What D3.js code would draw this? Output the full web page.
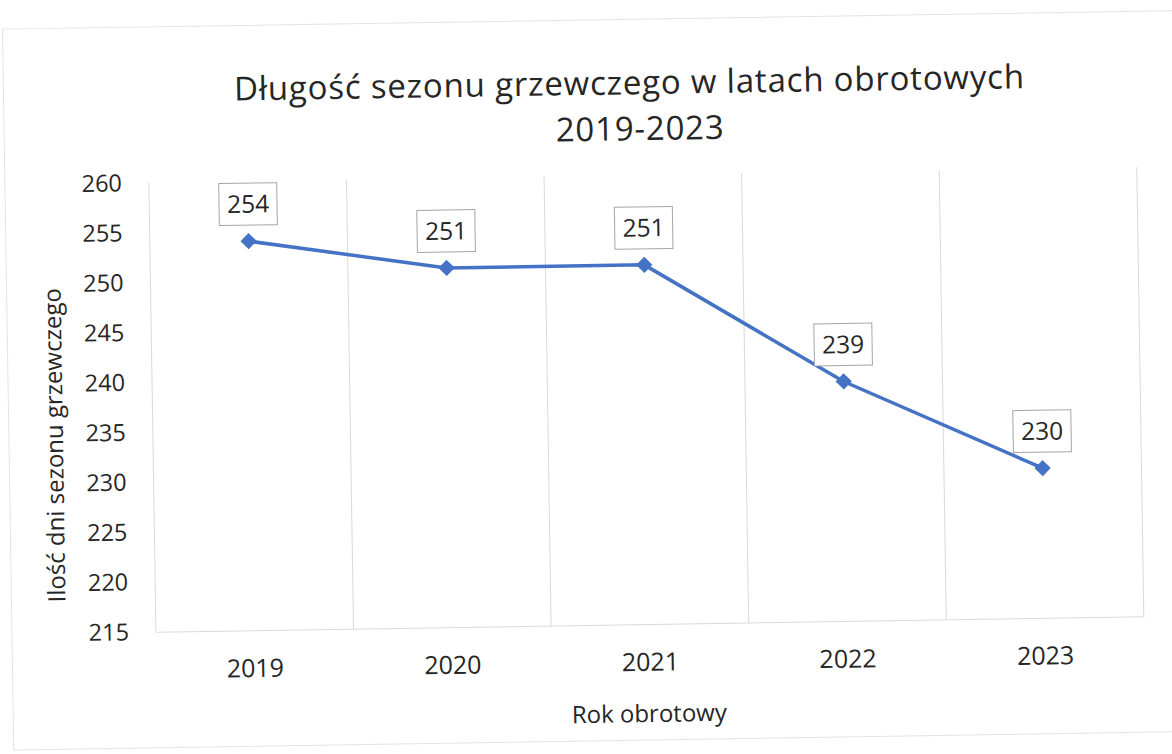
<!DOCTYPE html>
<html>
<head>
<meta charset="utf-8">
<script src="https://cdn.jsdelivr.net/npm/d3@7"></script>
<style>
  html, body { margin: 0; padding: 0; background: #fff; }
  text { font-family: "Open Sans", "Noto Sans", sans-serif; fill: #262626; }
</style>
</head>
<body>
<div id="chart-area"></div>
<script>
// data
let years = ["2019", "2020", "2021", "2022", "2023"];
let days = [254, 251, 251, 239, 230];
let yTicks = [215, 220, 225, 230, 235, 240, 245, 250, 255, 260];

let titleLines = ["Długość sezonu grzewczego w latach obrotowych", "2019-2023"];
let yTitle = "Ilość dni sezonu grzewczego";
let xTitle = "Rok obrotowy";

let W = 1172, H = 754;
let margin = { left: 152, right: 32, top: 176, bottom: 129 };
let width = W - margin.left - margin.right;
let height = H - margin.top - margin.bottom;

let svg = d3.select("#chart-area")
  .append("svg")
    .attr("width", W)
    .attr("height", H);

// the scan is slightly tilted, so tilt the whole drawing a bit
let page = svg.append("g")
  .attr("transform", "rotate(-0.9, 586, 377)");

// chart border
page.append("rect")
  .attr("x", 8)
  .attr("y", 20)
  .attr("width", 1180)
  .attr("height", 721)
  .attr("fill", "none")
  .attr("stroke", "#e3e3e3")
  .attr("stroke-width", 1);

let group = page.append("g")
  .attr("transform", `translate(${margin.left}, ${margin.top})`);

let x = d3.scaleBand()
  .domain(years)
  .range([0, width]);

let y = d3.scaleLinear()
  .domain([215, 260])
  .range([height, 0]);

// ----------------- Title -----------------
// one text element, two lines
page.append("text")
  .attr("text-anchor", "middle")
  .attr("font-size", "33px")
  .attr("letter-spacing", "0.8px")
  .selectAll("tspan")
  .data(titleLines)
  .enter()
  .append("tspan")
    .attr("x", (d, i) => i ? 644 : 634)
    .attr("y", (d, i) => 95 + i * 46)
    .text(d => d);

// ----------------- Grid -----------------
let bounds = years.map(d => x(d)).concat([width]);
group.selectAll(".grid")
  .data(bounds)
  .enter()
  .append("line")
    .attr("class", "grid")
    .attr("x1", d => d)
    .attr("x2", d => d)
    .attr("y1", 0)
    .attr("y2", height)
    .attr("stroke", "#d9d9d9")
    .attr("stroke-width", 1);

// ----------------- Axes -----------------
let x_axis_group = group.append("g")
  .attr("transform", `translate(0, ${height})`)
  .call(d3.axisBottom(x).tickSize(0).tickPadding(29));
x_axis_group.select(".domain").attr("stroke", "#d9d9d9");
x_axis_group.selectAll("text")
  .attr("font-size", "25px")
  .attr("font-family", null);

let y_axis_group = group.append("g")
  .call(d3.axisLeft(y).tickValues(yTicks).tickSize(0).tickPadding(27));
y_axis_group.select(".domain").remove();
y_axis_group.selectAll("text")
  .attr("font-size", "23.5px")
  .attr("font-family", null);

// ----------------- Labels -----------------
page.append("text")
  .attr("x", 644)
  .attr("y", 723)
  .attr("text-anchor", "middle")
  .attr("font-size", "24px")
  .text(xTitle);

page.append("text")
  .attr("transform", "translate(62, 437) rotate(-90)")
  .attr("text-anchor", "middle")
  .attr("font-size", "24px")
  .text(yTitle);

// ----------------- Line -----------------
let cx = (d, i) => x(years[i]) + x.bandwidth() / 2;

let line = d3.line()
  .x(cx)
  .y(d => y(d));

group.append("path")
  .datum(days)
  .attr("fill", "none")
  .attr("stroke", "#4472c4")
  .attr("stroke-width", 3.5)
  .attr("stroke-linejoin", "round")
  .attr("d", line);

group.selectAll(".marker")
  .data(days)
  .enter()
  .append("path")
    .attr("class", "marker")
    .attr("d", d3.symbol(d3.symbolDiamond2, 140))
    .attr("transform", (d, i) => `translate(${cx(d, i)}, ${y(d)})`)
    .attr("fill", "#4472c4")
    .attr("stroke", "#4472c4")
    .attr("stroke-width", 1);

// ----------------- Data labels -----------------
let labels = group.selectAll(".dlabel")
  .data(days)
  .enter()
  .append("g")
    .attr("class", "dlabel")
    .attr("transform", (d, i) => `translate(${cx(d, i)}, ${y(d) - 37})`);

labels.append("rect")
  .attr("x", -29)
  .attr("y", -21)
  .attr("width", 58)
  .attr("height", 42)
  .attr("fill", "#fff")
  .attr("stroke", "#a6a6a6")
  .attr("stroke-width", 1);

labels.append("text")
  .attr("text-anchor", "middle")
  .attr("dy", "0.35em")
  .attr("font-size", "24.5px")
  .text(d => d);
</script>
</body>
</html>
